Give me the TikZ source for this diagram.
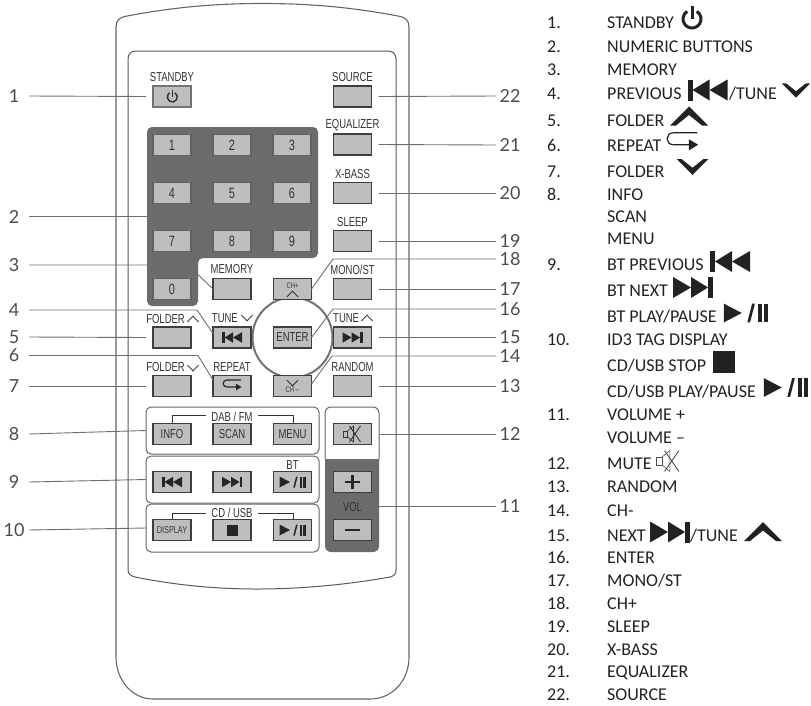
\documentclass[tikz,border=0pt]{standalone}
\usepackage{fontspec}
\setmainfont{Liberation Sans}
\newfontfamily\btnfam[FakeStretch=0.73]{Liberation Sans}
\newfontfamily\legfam{Carlito}
\newfontfamily\numfam{Lato}
\definecolor{inkbtn}{HTML}{3E3E3E}
\definecolor{fillbtn}{HTML}{BEBEBE}
\definecolor{padgray}{HTML}{6A6B6D}
\definecolor{leader}{HTML}{6E6E6E}
\definecolor{legink}{HTML}{222222}
\tikzset{
  btn/.style={draw=inkbtn,fill=fillbtn,line width=1.1pt,minimum width=38pt,minimum height=21pt,inner sep=0pt,outer sep=0pt,text=black!80,font=\btnfam\fontsize{13}{14}\selectfont},
  keybtn/.style={btn,draw=black!62,font=\btnfam\fontsize{15}{16}\selectfont},
  capt/.style={inner sep=0pt,text=black!80,font=\btnfam\fontsize{13}{14}\selectfont},
  groupbox/.style={draw=black!60,line width=1pt,rounded corners=5pt,minimum width=173pt,inner sep=0pt,outer sep=0pt},
  lead/.style={draw=leader,line width=.9pt},
  brk/.style={draw=black!80,line width=1pt},
  numl/.style={inner sep=0pt,outer sep=0pt,minimum width=30pt,text=black!70,font=\numfam\fontsize{18}{18}\selectfont},
  numr/.style={inner sep=0pt,outer sep=0pt,minimum width=28pt,text=black!70,font=\numfam\fontsize{18}{18}\selectfont},
  legt/.style={anchor=base west,inner sep=0pt,text=legink,font=\legfam\fontsize{18}{18}\selectfont},
  pics/powersym/.style n args={1}{code={
    \draw[line width=#1,line cap=butt] (0,0)++(-58:1) arc[start angle=-58,end angle=238,radius=1];
    \draw[line width=#1] (0,-1.5)--(0,0);}},
  pics/prevsym/.style={code={
    \fill (-10,-5.25) rectangle (-7.5,5.25);
    \fill (-7.5,0)--(1,-5.25)--(1,5.25)--cycle;
    \fill (1,0)--(10,-5.25)--(10,5.25)--cycle;}},
  pics/playpausesym/.style={code={
    \fill (-13,-5.5)--(-2.5,0)--(-13,5.5)--cycle;
    \fill (0.8,5.5)--(2.4,5.5)--(5.2,-5.5)--(3.6,-5.5)--cycle;
    \fill (7,-5.5) rectangle (9.6,5.5);
    \fill (10.6,-5.5) rectangle (13,5.5);}},
  pics/chevup/.style={code={\fill (-19,9.5)--(0,-9.5)--(19,9.5)--(13,9.5)--(0,-1)--(-13,9.5)--cycle;}},
  pics/chevthin/.style={code={\draw[line width=1pt] (-5.5,2.8)--(0,-2.8)--(5.5,2.8);}},
  pics/repeatsym/.style={code={
    \draw[line width=1.2pt] (9,-6)--(-5,-6) .. controls (-10,-6) and (-10,1) .. (-5,1)--(5,1);
    \fill (4,-2.2)--(9.5,1)--(4,4.4)--cycle;}},
  pics/mutesym/.style={code={
    \draw[line width=.8pt] (-9,-3) rectangle (-5,3);
    \draw[line width=.6pt] (-5,-3)--(1,-8)--(1,8)--(-5,3);
    \draw[line width=.9pt] (-3,-8)--(8,8) (8,-8)--(-3,8);}},
}
\newcommand{\legline}[4]{%
  \node[legt] (#1n) at (547,#2+5.8) {#3};
  \node[legt] (#1t) at (607,#2+5.8) {#4};}
\newcommand{\legcont}[3]{\node[legt] (#1t) at (607,#2+5.8) {#3};}
\begin{document}
\begin{tikzpicture}[x=1pt,y=-1pt]
\useasboundingbox (0,0) rectangle (811,705);
% body
\draw[draw=black!60,line width=1.1pt] (116,27) .. controls (116,20) and (120,17) .. (127,16) .. controls (170,8) and (210,3.5) .. (262,3.5) .. controls (315,3.5) and (355,8) .. (398,16) .. controls (405,17) and (409,20) .. (409,27) -- (409,657) .. controls (409,680) and (393,699) .. (370,699) -- (153,699) .. controls (132,699) and (116,680) .. (116,657) -- cycle;
\draw[draw=black!65,line width=1pt] (128,59) .. controls (128,54) and (131,51) .. (136,51) -- (388,51) .. controls (393,51) and (396,54) .. (396,59) -- (396,570) .. controls (396,574) and (394,576) .. (390,577) .. controls (345,585) and (300,589) .. (257,589) .. controls (215,589) and (175,585) .. (135,577) .. controls (131,576) and (128,574) .. (128,570) -- cycle;
% keypad backing
\fill[padgray,rounded corners=5pt] (147,127) -- (318,127) -- (318,258) -- (198,258) -- (198,306) -- (147,306) -- cycle;
\coordinate (padw) at (146.5,216.7);
% ring
\node[draw=black!55,line width=2pt,circle,minimum size=80pt,inner sep=0pt] (ring) at (292.5,337.5) {};
% group boxes
\node[groupbox,minimum height=47pt] (dab) at (232.5,430.5) {};
\node[groupbox,minimum height=47pt] (btb) at (232.5,479.5) {};
\node[groupbox,minimum height=48pt] (cdb) at (232.5,528) {};
% right column
\fill[padgray,rounded corners=6pt] (325,459) -- (325,552) -- (379,552) -- (379,459) -- (379,450) -- (325,450) -- cycle;
\fill[white] (325,449) rectangle (379,459);
\draw[draw=black!60,line width=1pt,rounded corners=6pt] (325,459) -- (325,407) -- (379,407) -- (379,459);
\coordinate (colr) at (379,434);
\coordinate (volr) at (379,506);
% captions
\node[capt] (cstandby) at (172,77) {STANDBY};
\node[capt] (csource) at (352.5,77) {SOURCE};
\node[capt] (cequal) at (352.5,125) {EQUALIZER};
\node[capt] (cxbass) at (352.5,174) {X-BASS};
\node[capt] (csleep) at (352.5,222) {SLEEP};
\node[capt] (cmemory) at (232,269.5) {MEMORY};
\node[capt] (cmono) at (352.5,269.5) {MONO/ST};
\node[capt,anchor=east] (cfolderu) at (185,319) {FOLDER};
\node[capt,anchor=east] (ctuned) at (238,318) {TUNE};
\node[capt,anchor=west] (ctuneu) at (333,318) {TUNE};
\node[capt,anchor=east] (cfolderd) at (185,367.5) {FOLDER};
\node[capt] (crepeat) at (232,367) {REPEAT};
\node[capt] (crandom) at (352.5,367) {RANDOM};
\node[capt] (cdab) at (232,417) {DAB / FM};
\node[capt] (cbt) at (292.5,465) {BT};
\node[capt] (ccd) at (232,512.5) {CD / USB};
\node[capt] (cvol) at (352.5,507) {VOL};
\pic[black!75] at (193,319) {chevthin};
\pic[black!75,yscale=-1] at (247,318) {chevthin};
\pic[black!75] at (367,318) {chevthin};
\pic[black!75,yscale=-1] at (193,368) {chevthin};
% brackets
\draw[brk] (172,423) -- (172,415) -- ([xshift=-5pt]cdab.west|-172,415);
\draw[brk] ([xshift=5pt]cdab.east|-172,415) -- (293,415) -- (293,423);
\draw[brk] (172,519) -- (172,513) -- ([xshift=-5pt]ccd.west|-172,513);
\draw[brk] ([xshift=5pt]ccd.east|-172,513) -- (293,513) -- (293,519);
% buttons
\node[btn,draw=black!55] (standby) at (172,96.5) {};
\node[btn] (source) at (352.5,96.5) {};
\node[btn] (equal) at (352.5,144.5) {};
\node[btn] (xbass) at (352.5,193) {};
\node[btn] (sleep) at (352.5,241) {};
\node[keybtn] (k1) at (172,145) {1};
\node[keybtn] (k2) at (232,145) {2};
\node[keybtn] (k3) at (292,145) {3};
\node[keybtn] (k4) at (172,193) {4};
\node[keybtn] (k5) at (232,193) {5};
\node[keybtn] (k6) at (292,193) {6};
\node[keybtn] (k7) at (172,241) {7};
\node[keybtn] (k8) at (232,241) {8};
\node[keybtn] (k9) at (292,241) {9};
\node[keybtn] (k0) at (172,289) {0};
\node[btn] (memory) at (232,289) {};
\node[btn] (chplus) at (292.5,289) {};
\node[btn] (mono) at (352.5,289) {};
\node[btn] (folderu) at (172,337.5) {};
\node[btn] (prev) at (232,337.5) {};
\node[btn] (enter) at (292.5,337.5) {ENTER};
\node[btn] (next) at (352.5,337.5) {};
\node[btn] (folderd) at (172,386) {};
\node[btn] (repeat) at (232,386) {};
\node[btn] (chminus) at (292.5,386) {};
\node[btn] (random) at (352.5,386) {};
\node[btn] (info) at (172,434) {INFO};
\node[btn] (scan) at (232,434) {SCAN};
\node[btn] (menu) at (292.5,434) {MENU};
\node[btn] (mute) at (352.5,434) {};
\node[btn] (btprev) at (172,482) {};
\node[btn] (btnext) at (232,482) {};
\node[btn] (btplay) at (292.5,482) {};
\node[btn] (plus) at (352.5,482) {};
\node[btn,font=\btnfam\fontsize{10}{11}\selectfont] (display) at (172,530) {DISPLAY};
\node[btn] (stopb) at (232,530) {};
\node[btn] (cdplay) at (292.5,530) {};
\node[btn] (minus) at (352.5,530) {};
% button symbols
\pic[black!80,scale=5] at (172.3,97) {powersym={1.5pt}};
\pic[black!85] at (232,337.5) {prevsym};
\pic[black!85,xscale=-1] at (352.5,337.5) {prevsym};
\pic[black!85] at (172,482) {prevsym};
\pic[black!85,xscale=-1] at (232,482) {prevsym};
\pic[black!85] at (292.5,482) {playpausesym};
\pic[black!85] at (292.5,530) {playpausesym};
\fill[black!85] (226.5,524.5) rectangle (237.5,535.5);
\pic[black!85] at (232,386) {repeatsym};
\pic[black!80] at (352.5,434) {mutesym};
\pic[black!80] at (292.5,294) {chevthin};
\pic[black!80,yscale=-1] at (292.5,383) {chevthin};
\node[inner sep=0pt,text=black!80,font=\btnfam\fontsize{8}{8}\selectfont] (chpt) at (292.5,286) {CH+};
\node[inner sep=0pt,text=black!80,font=\btnfam\fontsize{8}{8}\selectfont] (chmt) at (292.5,390) {CH\,--};
\fill[black!85] (345,480.8) rectangle (360,483.2);
\fill[black!85] (351.3,475) rectangle (353.7,489);
\fill[black!85] (345,528.8) rectangle (360,531.2);
% left numbers
\node[numl] (n1) at (14,96) {1};
\node[numl] (n2) at (14,216.7) {2};
\node[numl] (n3) at (14,265) {3};
\node[numl] (n4) at (14,310) {4};
\node[numl] (n5) at (14,337) {5};
\node[numl] (n6) at (14,355.5) {6};
\node[numl] (n7) at (14,386) {7};
\node[numl] (n8) at (14,434) {8};
\node[numl] (n9) at (14,482) {9};
\node[numl] (n10) at (14,530) {10};
% right numbers
\node[numr] (n22) at (510,96) {22};
\node[numr] (n21) at (510,145) {21};
\node[numr] (n20) at (510,193) {20};
\node[numr] (n19) at (510,241) {19};
\node[numr] (n18) at (510,259) {18};
\node[numr] (n17) at (510,289) {17};
\node[numr] (n16) at (510,309) {16};
\node[numr] (n15) at (510,337.5) {15};
\node[numr] (n14) at (510,356) {14};
\node[numr] (n13) at (510,386) {13};
\node[numr] (n12) at (510,434) {12};
\node[numr] (n11) at (510,506) {11};
% leaders
\draw[lead] (n1.east) -- ([xshift=-7pt]standby.west);
\draw[lead] (n2.east) -- (padw);
\draw[lead] (n3.east) -- (188,265) -- (memory.west);
\draw[lead] (n4.east) -- (197,310) -- ([yshift=4pt]prev.west);
\draw[lead] (n5.east) -- ([xshift=-7pt]folderu.west);
\draw[lead] (n6.east) -- (198,355.5) -- ([yshift=6pt]repeat.west);
\draw[lead] (n7.east) -- ([xshift=-7pt]folderd.west);
\draw[lead] (n8.east) -- (dab.west);
\draw[lead] (n9.east) -- (btb.west);
\draw[lead] (n10.east) -- (cdb.west);
\draw[lead] (n22.west) -- ([xshift=7pt]source.east);
\draw[lead] (n21.west) -- ([xshift=7pt]equal.east);
\draw[lead] (n20.west) -- ([xshift=7pt]xbass.east);
\draw[lead] (n19.west) -- ([xshift=7pt]sleep.east);
\draw[lead] (n18.west) -- (333,259) -- (chplus.east);
\draw[lead] (n17.west) -- ([xshift=7pt]mono.east);
\draw[lead] (n16.west) -- (333,309) -- (enter.east);
\draw[lead] (n15.west) -- ([xshift=7pt]next.east);
\draw[lead] (n14.west) -- (332,356) -- ([yshift=2pt]chminus.east);
\draw[lead] (n13.west) -- ([xshift=7pt]random.east);
\draw[lead] (n12.west) -- (colr);
\draw[lead] (n11.west) -- (volr);
% legend
\legline{a1}{23}{1.}{STANDBY}
\legline{a2}{46.5}{2.}{NUMERIC BUTTONS}
\legline{a3}{69.5}{3.}{MEMORY}
\legline{a4}{94}{4.}{PREVIOUS}
\node[legt] (a4b) at (729,99.8) {/TUNE};
\legline{a5}{120.7}{5.}{FOLDER}
\legline{a6}{146}{6.}{REPEAT}
\legline{a7}{171.7}{7.}{FOLDER}
\legline{a8}{195}{8.}{INFO}
\legcont{a8b}{217}{SCAN}
\legcont{a8c}{239}{MENU}
\legline{a9}{265}{9.}{BT PREVIOUS}
\legcont{a9b}{291}{BT NEXT}
\legcont{a9c}{317}{BT PLAY/PAUSE}
\legline{a10}{340}{10.}{ID3 TAG DISPLAY}
\legcont{a10b}{366}{CD/USB STOP}
\legcont{a10c}{392}{CD/USB PLAY/PAUSE}
\legline{a11}{415}{11.}{VOLUME +}
\legcont{a11b}{438}{VOLUME –}
\legline{a12}{464}{12.}{MUTE}
\legline{a13}{487}{13.}{RANDOM}
\legline{a14}{511}{14.}{CH-}
\legline{a15}{536}{15.}{NEXT}
\node[legt] (a15b) at (690,541.8) {/TUNE};
\legline{a16}{558}{16.}{ENTER}
\legline{a17}{581}{17.}{MONO/ST}
\legline{a18}{604}{18.}{CH+}
\legline{a19}{627}{19.}{SLEEP}
\legline{a20}{650}{20.}{X-BASS}
\legline{a21}{672}{21.}{EQUALIZER}
\legline{a22}{695}{22.}{SOURCE}
% legend symbols
\pic[legink,scale=9] at (692,19) {powersym={3pt}};
\pic[legink,scale=2] at (707.5,90) {prevsym};
\pic[legink,yscale=-1,scale=.74] at (796,90.5) {chevup};
\pic[legink] at (689,116) {chevup};
\pic[legink,scale=1.7] at (682,143) {repeatsym};
\pic[legink,yscale=-1,scale=.82] at (692.5,167) {chevup};
\pic[legink,scale=2] at (730,261.5) {prevsym};
\pic[legink,xscale=-2,yscale=2] at (693,287.5) {prevsym};
\pic[legink,scale=1.7] at (746,313) {playpausesym};
\fill[legink] (713,351) rectangle (735,373);
\pic[legink,scale=1.7] at (786,387.5) {playpausesym};
\pic[black!70,scale=1.3] at (668.5,461) {mutesym};
\pic[legink,xscale=-2,yscale=2] at (670,532) {prevsym};
\pic[legink] at (763,531.5) {chevup};
\end{tikzpicture}
\end{document}
